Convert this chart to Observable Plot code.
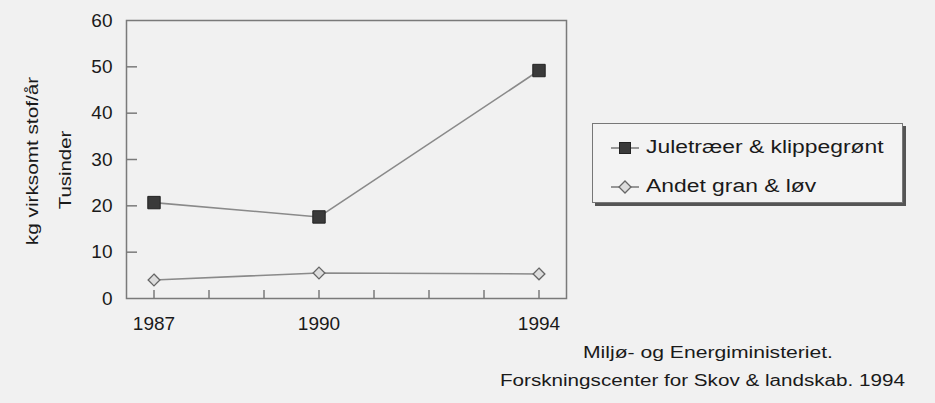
<!DOCTYPE html>
<html>
<head>
<meta charset="utf-8">
<script src="https://cdn.jsdelivr.net/npm/d3@7"></script>
<script src="https://cdn.jsdelivr.net/npm/@observablehq/plot@0.6"></script>
<style>
  html, body { margin: 0; padding: 0; background: #f1f1f1; }
  #wrap { position: relative; width: 935px; height: 403px; background: #f1f1f1; overflow: hidden;
          font-family: "Liberation Sans", Arial, sans-serif; color: #1a1a1a; }
  #chart { position: absolute; left: 0; top: 0; }
  .ylab { position: absolute; white-space: nowrap; font-size: 17px; }
  #legend { position: absolute; left: 592px; top: 123px; width: 311px; height: 80px; box-sizing: border-box;
            border: 1px solid #777; background: #f3f3f3; box-shadow: 3px 3px 0 #555; }
  .item { position: absolute; left: 18px; display: flex; align-items: center; font-size: 18px; white-space: nowrap; }
  .item svg { margin-right: 7px; }
  .item span { display: inline-block; transform: scaleX(1.27); transform-origin: left center; }
  .cap { position: absolute; font-size: 16px; white-space: nowrap; }
</style>
</head>
<body>
<div id="wrap">
  <div id="chart"></div>
  <div class="ylab" style="left:33px; top:161px; transform: translate(-50%, -50%) rotate(-90deg) scaleX(1.22);">kg virksomt stof/år</div>
  <div class="ylab" style="left:66px; top:170px; transform: translate(-50%, -50%) rotate(-90deg) scaleX(1.2);">Tusinder</div>
  <div id="legend"></div>
  <div class="cap" style="left:583px; top:344px; transform: scaleX(1.32); transform-origin: left center;">Miljø- og Energiministeriet.</div>
  <div class="cap" style="right:30px; top:372px; transform: scaleX(1.29); transform-origin: right center;">Forskningscenter for Skov &amp; landskab. 1994</div>
</div>
<script>
const years = [1987, 1990, 1994];
const juletraeer = [20.7, 17.6, 49.2];
const andetGranLoev = [4.0, 5.5, 5.3];
const seriesNames = ["Juletræer & klippegrønt", "Andet gran & løv"];
const yTicks = [0, 10, 20, 30, 40, 50, 60];
const xLabelTicks = [1987, 1990, 1994];
const xMinorTicks = [1987, 1988, 1989, 1990, 1991, 1992, 1993, 1994];

const dataJ = years.map((y, i) => ({year: y, value: juletraeer[i]}));
const dataA = years.map((y, i) => ({year: y, value: andetGranLoev[i]}));

const axisColor = "#7a7a7a";

const plot = Plot.plot({
  width: 935,
  height: 403,
  marginLeft: 126,
  marginRight: 369,
  marginTop: 20,
  marginBottom: 105,
  style: {background: "transparent", fontFamily: "Liberation Sans, Arial, sans-serif", fontSize: "19px", color: "#1a1a1a"},
  x: {domain: [1986.5, 1994.5]},
  y: {domain: [0, 60]},
  marks: [
    Plot.frame({stroke: axisColor, strokeWidth: 1.5}),
    Plot.axisY({ticks: yTicks, tickSize: 0, tickPadding: 14, label: null, fontSize: 19, fill: "#1a1a1a"}),
    Plot.ruleY(yTicks.filter(d => d > 0 && d < 60), {y: d => d, x1: 1986.5, x2: 1986.5 + 11 / 55, stroke: axisColor, strokeWidth: 1.5}),
    Plot.axisX({ticks: xLabelTicks, tickSize: 0, tickPadding: 18, tickFormat: d => String(d), label: null, fontSize: 19, fill: "#1a1a1a"}),
    Plot.ruleX(xMinorTicks, {x: d => d, y1: 0, y2: 8 / 4.625, stroke: axisColor, strokeWidth: 1.5}),
    Plot.line(dataA, {x: "year", y: "value", stroke: "#8a8a8a", strokeWidth: 1.6}),
    Plot.line(dataJ, {x: "year", y: "value", stroke: "#8a8a8a", strokeWidth: 1.6}),
    Plot.dot(dataA, {x: "year", y: "value", symbol: "diamond2", r: 5.3, fill: "#dcdcdc", stroke: "#666", strokeWidth: 1.3}),
    Plot.dot(dataJ, {x: "year", y: "value", symbol: "square", r: 7, fill: "#3a3a3a", stroke: "#222", strokeWidth: 1})
  ]
});
document.getElementById("chart").appendChild(plot);

// legend
const legend = document.getElementById("legend");
const sym = [
  '<svg width="28" height="14"><line x1="0" y1="7" x2="28" y2="7" stroke="#777" stroke-width="1.5"/><rect x="8.5" y="1.5" width="11" height="11" fill="#3a3a3a" stroke="#222"/></svg>',
  '<svg width="28" height="14"><line x1="0" y1="7" x2="28" y2="7" stroke="#777" stroke-width="1.5"/><path d="M14 1 L20 7 L14 13 L8 7 Z" fill="#dcdcdc" stroke="#666" stroke-width="1.3"/></svg>'
];
seriesNames.forEach((name, i) => {
  const div = document.createElement("div");
  div.className = "item";
  div.style.top = (i === 0 ? 13 : 52) + "px";
  div.innerHTML = sym[i] + '<span></span>';
  div.querySelector("span").textContent = name;
  legend.appendChild(div);
});
</script>
</body>
</html>
